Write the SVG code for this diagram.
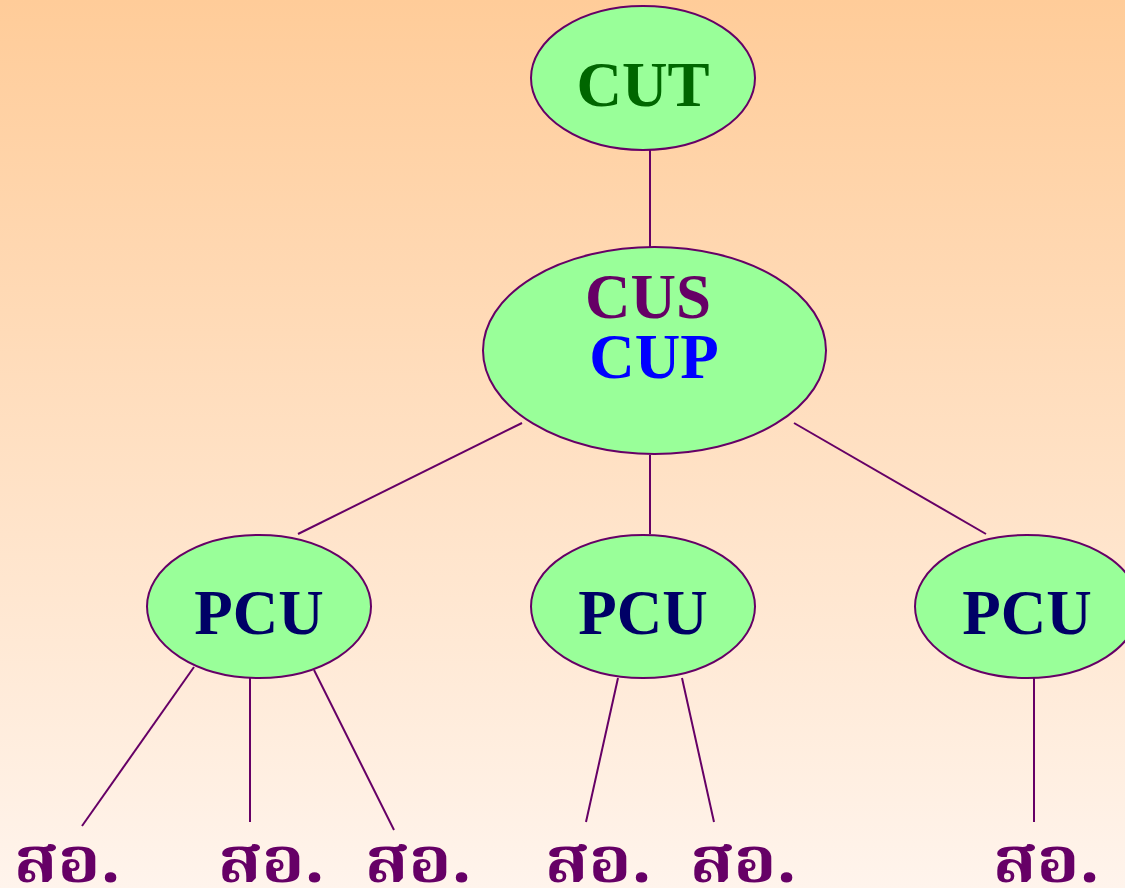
<svg xmlns="http://www.w3.org/2000/svg" width="1125" height="888" viewBox="0 0 1125 888">
  <defs>
    <linearGradient id="bg" x1="0" y1="0" x2="0" y2="1">
      <stop offset="0" stop-color="#FFCC99"/>
      <stop offset="1" stop-color="#FFF4EC"/>
    </linearGradient>
  </defs>
  <style>
    .node { fill: #99FF99; stroke: #660066; stroke-width: 2; }
    .edge { stroke: #660066; stroke-width: 2; fill: none; }
    .lbl { font-family: "Liberation Serif", "Times New Roman", serif; font-weight: bold; font-size: 63px; text-anchor: middle; }
    .th { font-family: "Noto Serif Thai", "Noto Sans Thai", "Noto Sans", "DejaVu Sans", sans-serif; font-weight: bold; font-size: 64px; fill: #660066; }
  </style>
  <rect x="0" y="0" width="1125" height="888" fill="url(#bg)"/>

  <g id="connectors">
    <line class="edge" x1="650" y1="150" x2="650" y2="247"/>
    <line class="edge" x1="522" y1="423" x2="298" y2="534"/>
    <line class="edge" x1="650" y1="455" x2="650" y2="534"/>
    <line class="edge" x1="794" y1="423" x2="986" y2="534"/>
    <line class="edge" x1="194" y1="667" x2="82" y2="826"/>
    <line class="edge" x1="250" y1="678" x2="250" y2="822"/>
    <line class="edge" x1="314" y1="670" x2="394" y2="830"/>
    <line class="edge" x1="618" y1="678" x2="586" y2="822"/>
    <line class="edge" x1="682" y1="678" x2="714" y2="822"/>
    <line class="edge" x1="1034" y1="678" x2="1034" y2="822"/>
  </g>

  <g id="cut">
    <ellipse class="node" cx="643" cy="78" rx="112" ry="72"/>
    <text class="lbl" x="643" y="106" fill="#006600">CUT</text>
  </g>
  <g id="cus-cup">
    <ellipse class="node" cx="654.5" cy="350.5" rx="171.5" ry="103.5"/>
    <text class="lbl" x="648" y="318" fill="#660066">CUS</text>
    <text class="lbl" x="654" y="378" fill="#0000FF">CUP</text>
  </g>
  <g id="pcu-1">
    <ellipse class="node" cx="259" cy="606.5" rx="112" ry="71.5"/>
    <text class="lbl" x="259" y="634" fill="#000066">PCU</text>
  </g>
  <g id="pcu-2">
    <ellipse class="node" cx="643" cy="606.5" rx="112" ry="71.5"/>
    <text class="lbl" x="643" y="634" fill="#000066">PCU</text>
  </g>
  <g id="pcu-3">
    <ellipse class="node" cx="1027" cy="606.5" rx="112" ry="71.5"/>
    <text class="lbl" x="1027" y="634" fill="#000066">PCU</text>
  </g>

  <g id="offices">
    <text class="th" x="14" y="882" textLength="107" lengthAdjust="spacingAndGlyphs">สอ.</text>
    <text class="th" x="218" y="882" textLength="107" lengthAdjust="spacingAndGlyphs">สอ.</text>
    <text class="th" x="365" y="882" textLength="107" lengthAdjust="spacingAndGlyphs">สอ.</text>
    <text class="th" x="545" y="882" textLength="107" lengthAdjust="spacingAndGlyphs">สอ.</text>
    <text class="th" x="690" y="882" textLength="107" lengthAdjust="spacingAndGlyphs">สอ.</text>
    <text class="th" x="993" y="882" textLength="107" lengthAdjust="spacingAndGlyphs">สอ.</text>
  </g>
</svg>
